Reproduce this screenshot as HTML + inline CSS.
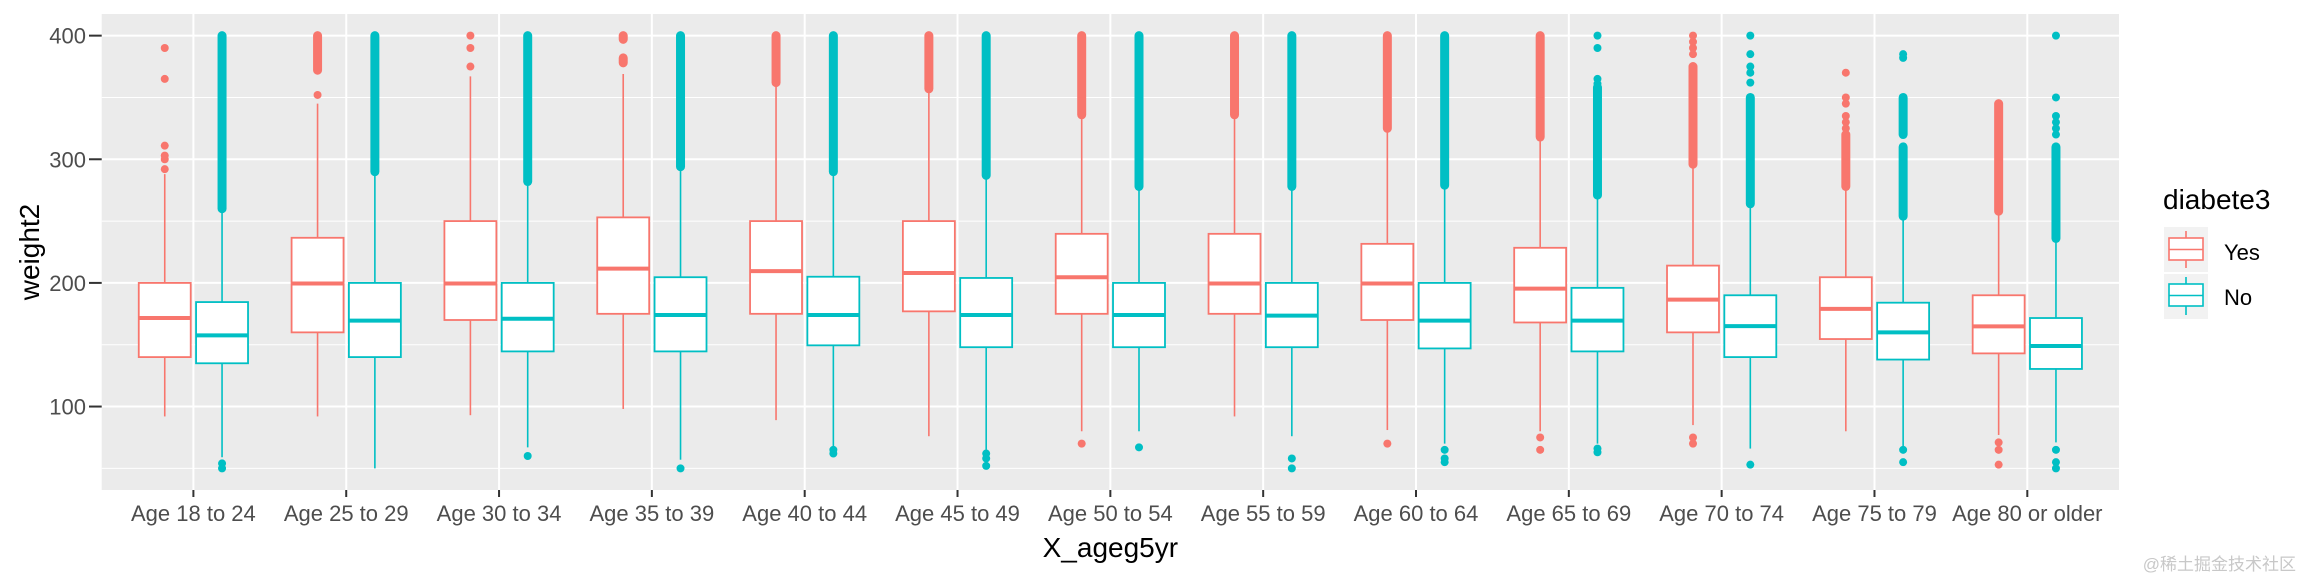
<!DOCTYPE html>
<html><head><meta charset="utf-8">
<style>
html,body{margin:0;padding:0;background:#fff;}
svg{display:block;}
text{font-family:"Liberation Sans",Arial,sans-serif;}
</style></head>
<body>
<svg id="chart" width="2304" height="576" viewBox="0 0 2304 576" xmlns="http://www.w3.org/2000/svg">
<rect x="0" y="0" width="2304" height="576" fill="#ffffff"/>
<g id="panel"></g>
<g id="marks"></g>
<g id="axes"></g>
<g id="legend">
  <text x="2163" y="209" font-size="28" fill="#000">diabete3</text>
  <g>
    <rect x="2164" y="227" width="44" height="45" fill="#F2F2F2"/>
    <line x1="2186" y1="231" x2="2186" y2="268" stroke="#F8766D" stroke-width="1.6"/>
    <rect x="2169" y="238" width="34" height="22" fill="#fff" stroke="#F8766D" stroke-width="1.6"/>
    <line x1="2169" y1="249.5" x2="2203" y2="249.5" stroke="#F8766D" stroke-width="1.6"/>
    <text x="2224" y="260" font-size="22" fill="#000">Yes</text>
  </g>
  <g>
    <rect x="2164" y="274" width="44" height="45" fill="#F2F2F2"/>
    <line x1="2186" y1="277" x2="2186" y2="315" stroke="#00BFC4" stroke-width="1.6"/>
    <rect x="2169" y="284" width="34" height="22" fill="#fff" stroke="#00BFC4" stroke-width="1.6"/>
    <line x1="2169" y1="295.5" x2="2203" y2="295.5" stroke="#00BFC4" stroke-width="1.6"/>
    <text x="2224" y="305" font-size="22" fill="#000">No</text>
  </g>
</g>
<text x="2296" y="570" font-size="17" fill="#c8c8c8" text-anchor="end" font-family="Liberation Sans, Noto Sans CJK SC, sans-serif">@稀土掘金技术社区</text>
</svg>
<script>
// ---- data ----
const categories = ["Age 18 to 24","Age 25 to 29","Age 30 to 34","Age 35 to 39","Age 40 to 44","Age 45 to 49","Age 50 to 54","Age 55 to 59","Age 60 to 64","Age 65 to 69","Age 70 to 74","Age 75 to 79","Age 80 or older"];
const groups = ["Yes","No"];
const yTicks = [100,200,300,400];
const yMinor = [50,150,250,350];
// Yes series: [lowerWhisker, q1, median, q3, upperWhisker]
const yesStats = [
 [92,140,171.6,200,288],
 [92,160,199.5,236.5,345],
 [93,170,199.5,250,367],
 [98,175,211.6,253,369],
 [89,175,209.5,250,359],
 [76,177,208,250,355],
 [80,175,204.6,239.7,335],
 [92,175,199.5,239.7,335],
 [81,170,199.5,231.6,323],
 [80,168,195.4,228.4,318],
 [85,160,186.5,214,296],
 [80,154.6,179,204.6,278],
 [77,143,164.8,190,257]
];
const noStats = [
 [59,135,157.6,184.5,259],
 [50,140,169.5,200,288],
 [67,144.6,171,200,281],
 [57,144.6,174,204.6,293],
 [67,149.5,174,205,288],
 [65,148,174,204,286],
 [80,148,174,200,276],
 [76,148,173.5,200,276],
 [70,147,169.5,200,277],
 [70,144.6,169.5,196,270],
 [66,140,165,190,263],
 [65,138,160,184,253],
 [71,130.4,149,171.6,233]
];
// outlier dense bands [lo,hi]
const yesBands = [[],[[372,400]],[],[[378,382],[397,400]],[[362,400]],[[357,400]],[[336,400]],[[336,400]],[[325,400]],[[318,400]],[[296,375]],[[278,320]],[[258,345]]];
const noBands = [[[260,400]],[[290,400]],[[282,400]],[[294,400]],[[290,400]],[[287,400]],[[278,400]],[[278,400]],[[279,400]],[[271,358]],[[264,350]],[[254,310],[320,350]],[[236,310]]];
// single outlier points
const yesPoints = [[292,300,303,311,365,390],[352],[375,390,400],[],[],[],[70],[],[70],[65,75],[70,75,385,390,395,400],[325,330,335,345,350,370],[53,65,71]];
const noPoints = [[50,54],[],[60],[50],[62,65],[52,58,62],[67],[50,58],[55,58,65],[63,66,361,365,390,400],[53,362,370,375,385,400],[55,65,382,385],[50,55,65,320,325,330,335,350,400]];

// ---- scales ----
const P = {l:101.7, r:2119, t:14, b:490};
const yMin = 32.5, yMax = 417.5;
function y(v){ return P.b - (v - yMin) / (yMax - yMin) * (P.b - P.t); }
const step = (P.r - P.l) / (categories.length + 0.2);
function x(i){ return P.l + (i + 0.6) * step; }
const colors = {Yes:"#F8766D", No:"#00BFC4"};
const NS = "http://www.w3.org/2000/svg";
function mk(tag, attrs, parent){ const e=document.createElementNS(NS,tag); for(const k in attrs) e.setAttribute(k,attrs[k]); parent.appendChild(e); return e; }

const panel = document.getElementById('panel');
const bg = mk('rect',{x:P.l,y:P.t,width:P.r-P.l,height:P.b-P.t,fill:'#EBEBEB'},panel);


yMinor.forEach(v=>{ const l=mk('line',{x1:P.l,x2:P.r,y1:y(v),y2:y(v),stroke:'#fff','stroke-width':1},panel);
 
  });
yTicks.forEach(v=>{ const l=mk('line',{x1:P.l,x2:P.r,y1:y(v),y2:y(v),stroke:'#fff','stroke-width':2},panel);
 
  });
categories.forEach((c,i)=>{ const l=mk('line',{x1:x(i),x2:x(i),y1:P.t,y2:P.b,stroke:'#fff','stroke-width':2},panel);
 
  });

const marks = document.getElementById('marks');
const dodge = 0.1875 * step, half = 0.17 * step;
function drawBox(i, stats, bands, pts, grp, sign){
  const cx = x(i) + sign * dodge, col = colors[grp];
  const g = mk('g',{},marks);
  
  
  const [lw,q1,md,q3,uw] = stats;
  mk('line',{x1:cx,x2:cx,y1:y(q3),y2:y(uw),stroke:col,'stroke-width':1.6},g);
  mk('line',{x1:cx,x2:cx,y1:y(q1),y2:y(lw),stroke:col,'stroke-width':1.6},g);
  mk('rect',{x:cx-half,y:y(q3),width:2*half,height:y(q1)-y(q3),fill:'#fff',stroke:col,'stroke-width':1.8},g);
  mk('line',{x1:cx-half,x2:cx+half,y1:y(md),y2:y(md),stroke:col,'stroke-width':4},g);
  bands.forEach(b=>{ const bl=mk('line',{x1:cx,x2:cx,y1:y(b[0]),y2:y(b[1]),stroke:col,'stroke-width':9,'stroke-linecap':'round'},g);
    
     });
  pts.forEach(p=>{ const c=mk('circle',{cx:cx,cy:y(p),r:4,fill:col},g);
    
     });
}
categories.forEach((c,i)=>{
  drawBox(i, yesStats[i], yesBands[i], yesPoints[i], 'Yes', -1);
  drawBox(i, noStats[i], noBands[i], noPoints[i], 'No', 1);
});

const axes = document.getElementById('axes');
yTicks.forEach(v=>{
  const t=mk('line',{x1:89,x2:P.l,y1:y(v),y2:y(v),stroke:'#333','stroke-width':2},axes);
  
  
  const tx=mk('text',{x:86,y:y(v)+8,'font-size':22,fill:'#4D4D4D','text-anchor':'end'},axes);
  tx.textContent=v;
  
  
});
categories.forEach((c,i)=>{
  const t=mk('line',{x1:x(i),x2:x(i),y1:P.b,y2:P.b+7,stroke:'#333','stroke-width':2},axes);
  
  
  const tx=mk('text',{x:x(i),y:521,'font-size':22,fill:'#4D4D4D','text-anchor':'middle'},axes);
  tx.textContent=c;
  
  
});
const xt=mk('text',{x:(P.l+P.r)/2,y:557,'font-size':28,fill:'#000','text-anchor':'middle'},axes);
xt.textContent='X_ageg5yr';


const yt=mk('text',{x:0,y:0,'font-size':28,fill:'#000','text-anchor':'middle',transform:'translate(39,'+((P.t+P.b)/2)+') rotate(-90)'},axes);
yt.textContent='weight2';


</script>
</body></html>
